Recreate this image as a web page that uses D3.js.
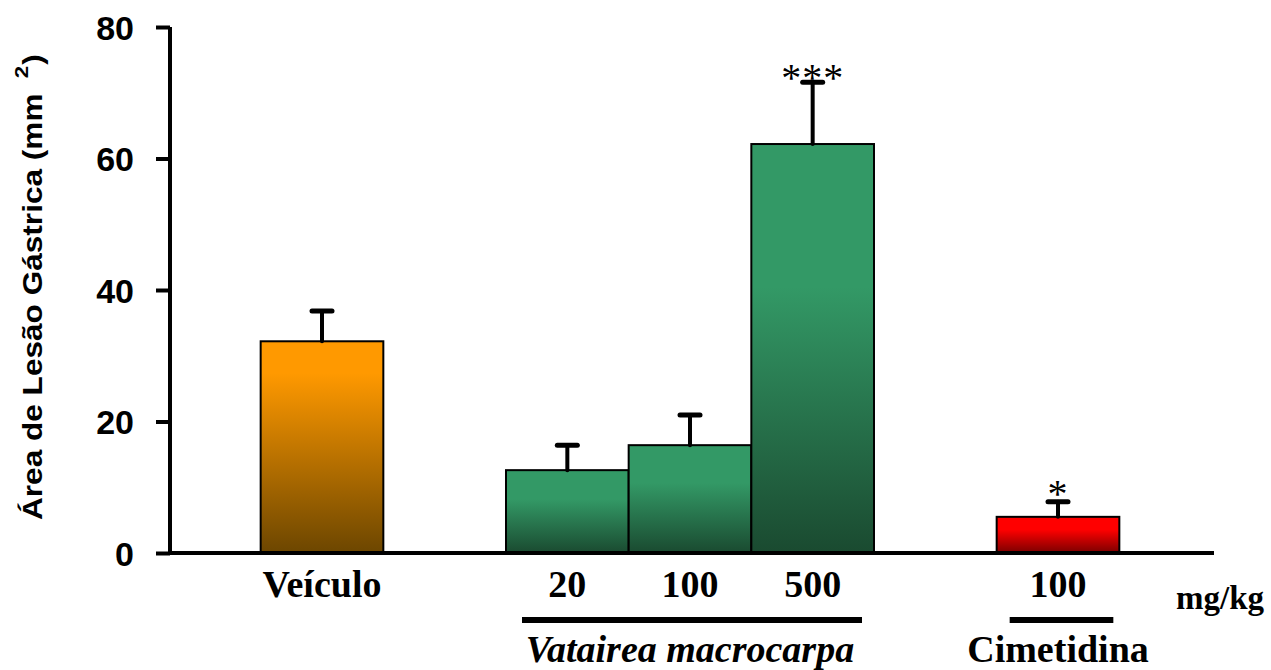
<!DOCTYPE html>
<html>
<head>
<meta charset="utf-8">
<script src="https://cdn.jsdelivr.net/npm/d3@7"></script>
<style>
  html, body { margin: 0; padding: 0; background: #fff; }
  svg { display: block; }
</style>
</head>
<body>
<svg id="chart" width="1271" height="670"></svg>
<script>
// Gastric lesion area by treatment group (mean + SEM)
const groups    = ["Veículo", "V20", "V100", "V500", "Cim100"];
const slots     = [0, 2, 3, 4, 6];            // horizontal slot of each bar
const doseLabel = ["Veículo", "20", "100", "500", "100"];
const means     = [32.2, 12.6, 16.4, 62.2, 5.5];
const sems      = [4.6, 3.8, 4.6, 9.4, 2.3];
const signif    = ["", "", "", "***", "*"];
const fills     = ["orange", "green", "green", "green", "red"];
const yTicks    = [0, 20, 40, 60, 80];

const palette = {
  orange: ["#ff9900", "#6c4600"],
  green:  ["#339966", "#1a4a30"],
  red:    ["#ff0000", "#7a0000"]
};

const sans  = "Liberation Sans, Arial, sans-serif";
const serif = "Liberation Serif, Times New Roman, serif";

const svg = d3.select("#chart");

const y = d3.scaleLinear().domain([0, 80]).range([553, 27]);
const x = d3.scaleLinear().domain([0, 6]).range([322, 1058]);
const slotW = x(1) - x(0);

// vertical gradients, bright on top and darkening downwards
const defs = svg.append("defs");
Object.entries(palette).forEach(([k, [c0, c1]]) => {
  const g = defs.append("linearGradient")
    .attr("id", "grad-" + k)
    .attr("x1", 0).attr("y1", 0).attr("x2", 0).attr("y2", 1);
  g.append("stop").attr("offset", "0%").attr("stop-color", c0);
  g.append("stop").attr("offset", k === "orange" ? "15%" : "35%").attr("stop-color", c0);
  g.append("stop").attr("offset", "100%").attr("stop-color", c1);
});

// bars
svg.append("g").selectAll("rect")
  .data(groups)
  .join("rect")
  .attr("x", (d, i) => x(slots[i]) - slotW / 2)
  .attr("width", slotW)
  .attr("y", (d, i) => y(means[i]))
  .attr("height", (d, i) => y(0) - y(means[i]))
  .attr("fill", (d, i) => `url(#grad-${fills[i]})`)
  .attr("stroke", "#000")
  .attr("stroke-width", 2);

// error bars (upper only)
const eb = svg.append("g").attr("stroke", "#000").attr("stroke-linecap", "round");
groups.forEach((d, i) => {
  const cx = x(slots[i]);
  eb.append("line")
    .attr("x1", cx).attr("x2", cx)
    .attr("y1", y(means[i])).attr("y2", y(means[i] + sems[i]))
    .attr("stroke-width", 4);
  eb.append("line")
    .attr("x1", cx - 10).attr("x2", cx + 10)
    .attr("y1", y(means[i] + sems[i])).attr("y2", y(means[i] + sems[i]))
    .attr("stroke-width", 5);
});

// significance marks
svg.append("g").selectAll("text")
  .data(groups)
  .join("text")
  .attr("x", (d, i) => x(slots[i]))
  .attr("y", (d, i) => y(means[i] + sems[i]) + (signif[i].length > 1 ? 9 : 5))
  .attr("text-anchor", "middle")
  .attr("font-family", serif)
  .attr("font-size", 40)
  .attr("letter-spacing", 1)
  .text((d, i) => signif[i]);

// y axis
const yAxis = svg.append("g")
  .attr("transform", "translate(170,0)")
  .call(d3.axisLeft(y).tickValues(yTicks).tickSize(14).tickPadding(22));
yAxis.select(".domain").attr("stroke", "#000").attr("stroke-width", 4)
  .attr("d", `M0,${y(80)}V${y(0)}`);
yAxis.selectAll(".tick line").attr("stroke", "#000").attr("stroke-width", 4);
yAxis.selectAll(".tick text")
  .attr("font-family", sans)
  .attr("font-weight", "bold")
  .attr("font-size", 34)
  .attr("fill", "#000")
  .attr("dy", "0.36em");

// x baseline
svg.append("line")
  .attr("x1", 170).attr("x2", 1214)
  .attr("y1", y(0)).attr("y2", y(0))
  .attr("stroke", "#000").attr("stroke-width", 4);

// y title
const yt = svg.append("text")
  .attr("transform", "translate(42,520) rotate(-90) scale(1.17,1)")
  .attr("text-anchor", "start")
  .attr("font-family", sans)
  .attr("font-weight", "bold")
  .attr("font-size", 27)
  .attr("fill", "#000");
yt.append("tspan").text("Área de Lesão Gástrica (mm");
yt.append("tspan").attr("font-size", 19).attr("dx", 13).attr("dy", -14).text("2");
yt.append("tspan").attr("dx", 1).attr("dy", 14).text(")");

// dose labels
svg.append("g").selectAll("text")
  .data(groups)
  .join("text")
  .attr("x", (d, i) => x(slots[i]))
  .attr("y", 597)
  .attr("text-anchor", "middle")
  .attr("font-family", serif)
  .attr("font-weight", "bold")
  .attr("font-size", 38)
  .text((d, i) => doseLabel[i]);

svg.append("text")
  .attr("x", 1220).attr("y", 609)
  .attr("text-anchor", "middle")
  .attr("font-family", serif)
  .attr("font-weight", "bold")
  .attr("font-size", 33)
  .text("mg/kg");

// group brackets and names
const brackets = [
  { name: "Vatairea macrocarpa", from: 2, to: 4, italic: true, l: 16, r: 12 },
  { name: "Cimetidina", from: 6, to: 6, italic: false, l: 13, r: 6 }
];
brackets.forEach(b => {
  const x0 = x(b.from) - slotW / 2 + b.l;
  const x1 = x(b.to) + slotW / 2 - b.r;
  svg.append("line")
    .attr("x1", x0).attr("x2", x1)
    .attr("y1", 620).attr("y2", 620)
    .attr("stroke", "#000").attr("stroke-width", 6);
  svg.append("text")
    .attr("x", (x(b.from) + x(b.to)) / 2)
    .attr("y", 662)
    .attr("text-anchor", "middle")
    .attr("font-family", serif)
    .attr("font-weight", "bold")
    .attr("font-style", b.italic ? "italic" : "normal")
    .attr("font-size", 38)
    .text(b.name);
});
</script>
</body>
</html>
